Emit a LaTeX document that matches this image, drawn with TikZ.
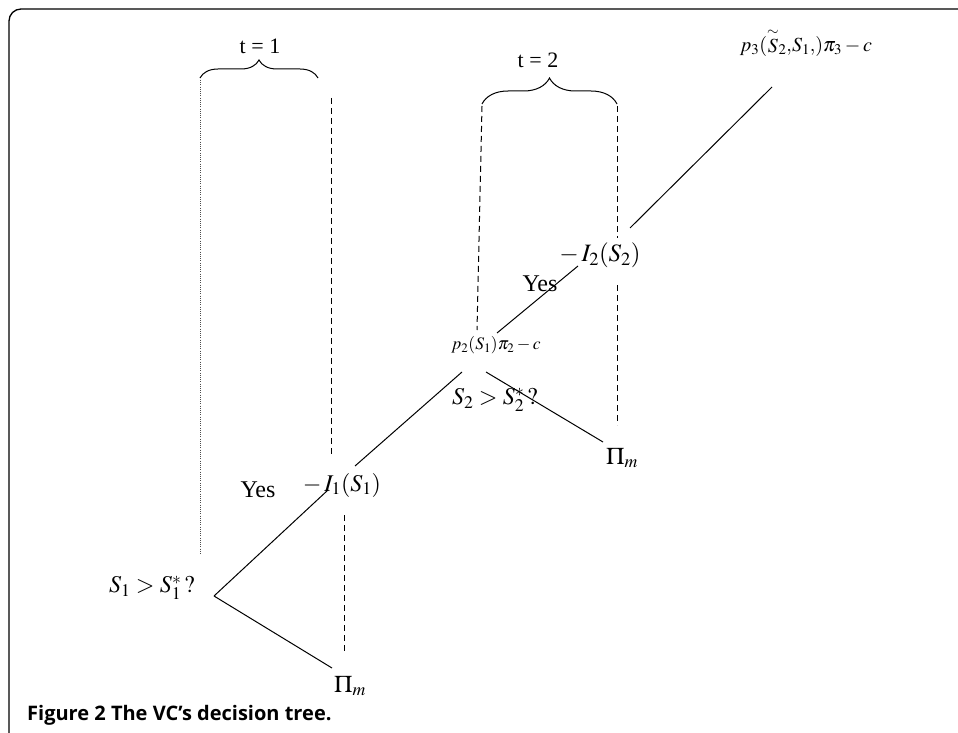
\documentclass[tikz,border=0pt]{standalone}
\usepackage{mathptmx}
\usepackage[no-math]{fontspec}
\setmainfont{Liberation Serif}
\newfontfamily\capfont{Open Sans}
\usetikzlibrary{decorations.pathreplacing}
\begin{document}
\begin{tikzpicture}[x=1pt,y=-1pt,
  branch/.style={line width=1pt},
  dashline/.style={line width=1pt,dash pattern=on 6pt off 4pt},
  dotline/.style={line width=1pt,dash pattern=on 1pt off 1.2pt,black!70},
  brc/.style={line width=1pt,decorate},
  lbl/.style={inner sep=0pt,font=\fontsize{22}{26}\selectfont},
  big/.style={inner sep=0pt,font=\fontsize{24}{28}\selectfont}]
\useasboundingbox (0,0) rectangle (958,733);
% frame
\draw[line width=1.3pt,rounded corners=12pt] (958,9) -- (9,9) -- (9,733);
% labels
\node[lbl] (t1) at (260,46) {t = 1};
\node[lbl] (t2) at (538,60) {t = 2};
\node[lbl,font=\fontsize{20}{24}\selectfont] (p3) at (806,42) {$p_3(\mathord{\stackrel{\sim}{S}}_2{,}S_1{,})\pi_3-c$};
\node[lbl,font=\fontsize{24}{28}\selectfont] (yes1) at (258,490) {Yes};
\node[lbl,font=\fontsize{24}{28}\selectfont] (yes2) at (540,284) {Yes};
\node[big] (s1) at (152,588) {$S_1>S_1^*\,?$};
\node[big] (i1) at (342,485) {$-\,I_1(S_1)$};
\node[big,font=\fontsize{25}{29}\selectfont] (i2) at (600,255) {$-\,I_2(S_2)$};
\node[lbl,font=\fontsize{17.5}{21}\selectfont] (p2) at (496,345) {$p_2(S_1)\pi_2-c$};
\node[big] (s2) at (495,400) {$S_2>S_2^*\,?$};
\node[big] (pm1) at (350,686) {$\Pi_m$};
\node[big] (pm2) at (622,458) {$\Pi_m$};
\node[inner sep=0pt,anchor=base west,font=\capfont\bfseries\fontsize{20}{24}\selectfont] (cap) at (27,720) {Figure 2 The VC’s decision tree.};
% braces
\coordinate (b1l) at (200,78); \coordinate (b1r) at (318,78);
\coordinate (b2l) at (482,104); \coordinate (b2r) at (617,104);
\draw[brc,decoration={brace,amplitude=18pt}] (b1l) -- (b1r);
\draw[brc,decoration={brace,amplitude=26pt}] (b2l) -- (b2r);
% vertical guides
\coordinate (d1a) at (200,80); \coordinate (d1b) at (200,555);
\draw[dotline] (d1a) -- (d1b);
\coordinate (d2a) at (331,98); \coordinate (d2b) at (331,455);
\draw[dashline] (d2a) -- (d2b);
\coordinate (d3a) at (344,515); \coordinate (d3b) at (344,653);
\draw[dashline] (d3a) -- (d3b);
\coordinate (d4a) at (482,106); \coordinate (d4b) at (477,330);
\draw[dashline] (d4a) -- (d4b);
\coordinate (d5a) at (617,106); \coordinate (d5b) at (617,238);
\draw[dashline] (d5a) -- (d5b);
\coordinate (d6a) at (617,285); \coordinate (d6b) at (617,425);
\draw[dashline] (d6a) -- (d6b);
% tree
\coordinate (r) at (214,596);
\coordinate (l1a) at (328,490); \coordinate (l1b) at (355,466);
\coordinate (n2l) at (462,372); \coordinate (n2r) at (486,372);
\coordinate (e2) at (603,442); \coordinate (e1) at (332,668);
\coordinate (u2a) at (497,333); \coordinate (u2b) at (578,266);
\coordinate (u3a) at (630,228); \coordinate (u3b) at (772,87);
\draw[branch] (r) -- (l1a);
\draw[branch] (l1b) -- (n2l);
\draw[branch] (r) -- (e1);
\draw[branch] (n2r) -- (e2);
\draw[branch] (u2a) -- (u2b);
\draw[branch] (u3a) -- (u3b);
\end{tikzpicture}
\end{document}
